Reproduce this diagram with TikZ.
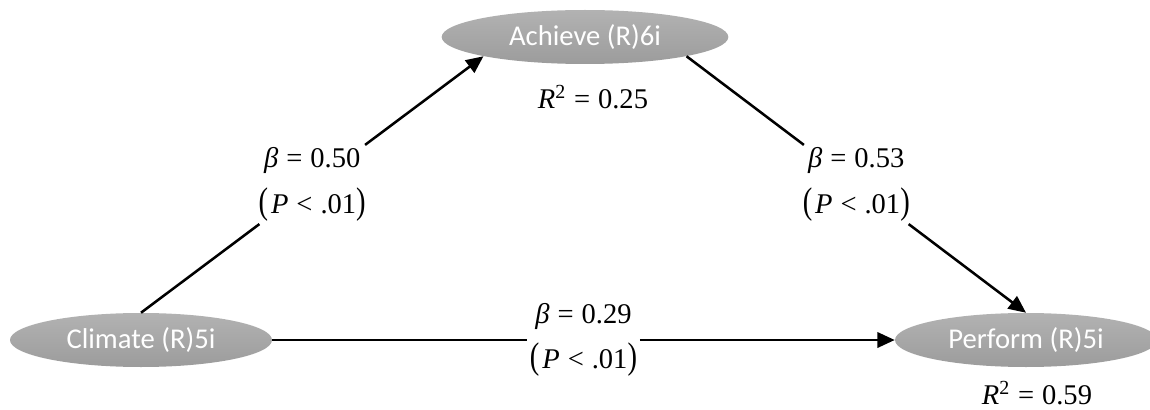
\documentclass[tikz,border=0pt]{standalone}
\usepackage{fontspec}
\setmainfont{Liberation Serif}
\newfontfamily\calibrifont{Carlito}
\usepackage{graphicx}
\usetikzlibrary{arrows.meta,shapes.geometric}
\definecolor{ovaltop}{RGB}{178,178,178}
\definecolor{ovalbottom}{RGB}{156,156,156}
\newcommand{\tallparen}[1]{\scalebox{1}[1.3]{#1}}
\newcommand{\betaeq}[1]{\textit{β}\hspace{0.28em}=\hspace{0.28em}#1}
\newcommand{\pless}{\tallparen{(}\hspace{0.1em}\textit{P}\hspace{0.28em}<\hspace{0.28em}.01\tallparen{)}}

\begin{document}
\begin{tikzpicture}[x=0.75pt, y=-0.75pt,
    construct/.style={ellipse, top color=ovaltop, bottom color=ovalbottom,
      minimum width=196.5pt, minimum height=40.5pt, inner sep=0pt,
      text=white, font=\calibrifont\fontsize{21.5}{24}\selectfont},
    coef/.style={align=center, inner sep=2pt,
      font=\fontsize{21.4}{34}\selectfont},
    rsq/.style={inner sep=1pt, font=\fontsize{21.4}{24}\selectfont},
    link/.style={line width=1.9pt},
    linkarrow/.style={link, -{Triangle[length=13pt,width=11.5pt]}}]
  \clip (0,0) rectangle (1150,410);
  % constructs
  \node[construct] (climate) at (141,340) {Climate (R)5i};
  \node[construct, minimum width=215pt] (achieve) at (585,37) {Achieve (R)6i};
  \node[construct] (perform) at (1026,340) {Perform (R)5i};
  % explained variance
  \node[rsq] (r2achieve) at (593,97)
    {\textit{R}\textsuperscript{2}\hspace{0.28em}=\hspace{0.28em}0.25};
  \node[rsq] (r2perform) at (1037,393)
    {\textit{R}\textsuperscript{2}\hspace{0.28em}=\hspace{0.28em}0.59};
  % path coefficients
  \path (climate.north) -- node[coef] (b1) {\betaeq{0.50}\\\pless}
    (achieve.south west);
  \path (achieve.south east) -- node[coef] (b2) {\betaeq{0.53}\\\pless}
    (perform.north);
  \path (climate.east) -- node[coef] (b3) {\betaeq{0.29}\\\pless}
    (perform.west);
  % paths
  \draw[link] (climate.north) -- (b1);
  \draw[linkarrow] (b1) -- (achieve.south west);
  \draw[link] (achieve.south east) -- (b2);
  \draw[linkarrow] (b2) -- (perform.north);
  \draw[link] (climate.east) -- (b3);
  \draw[linkarrow] (b3) -- (perform.west);
\end{tikzpicture}
\end{document}
